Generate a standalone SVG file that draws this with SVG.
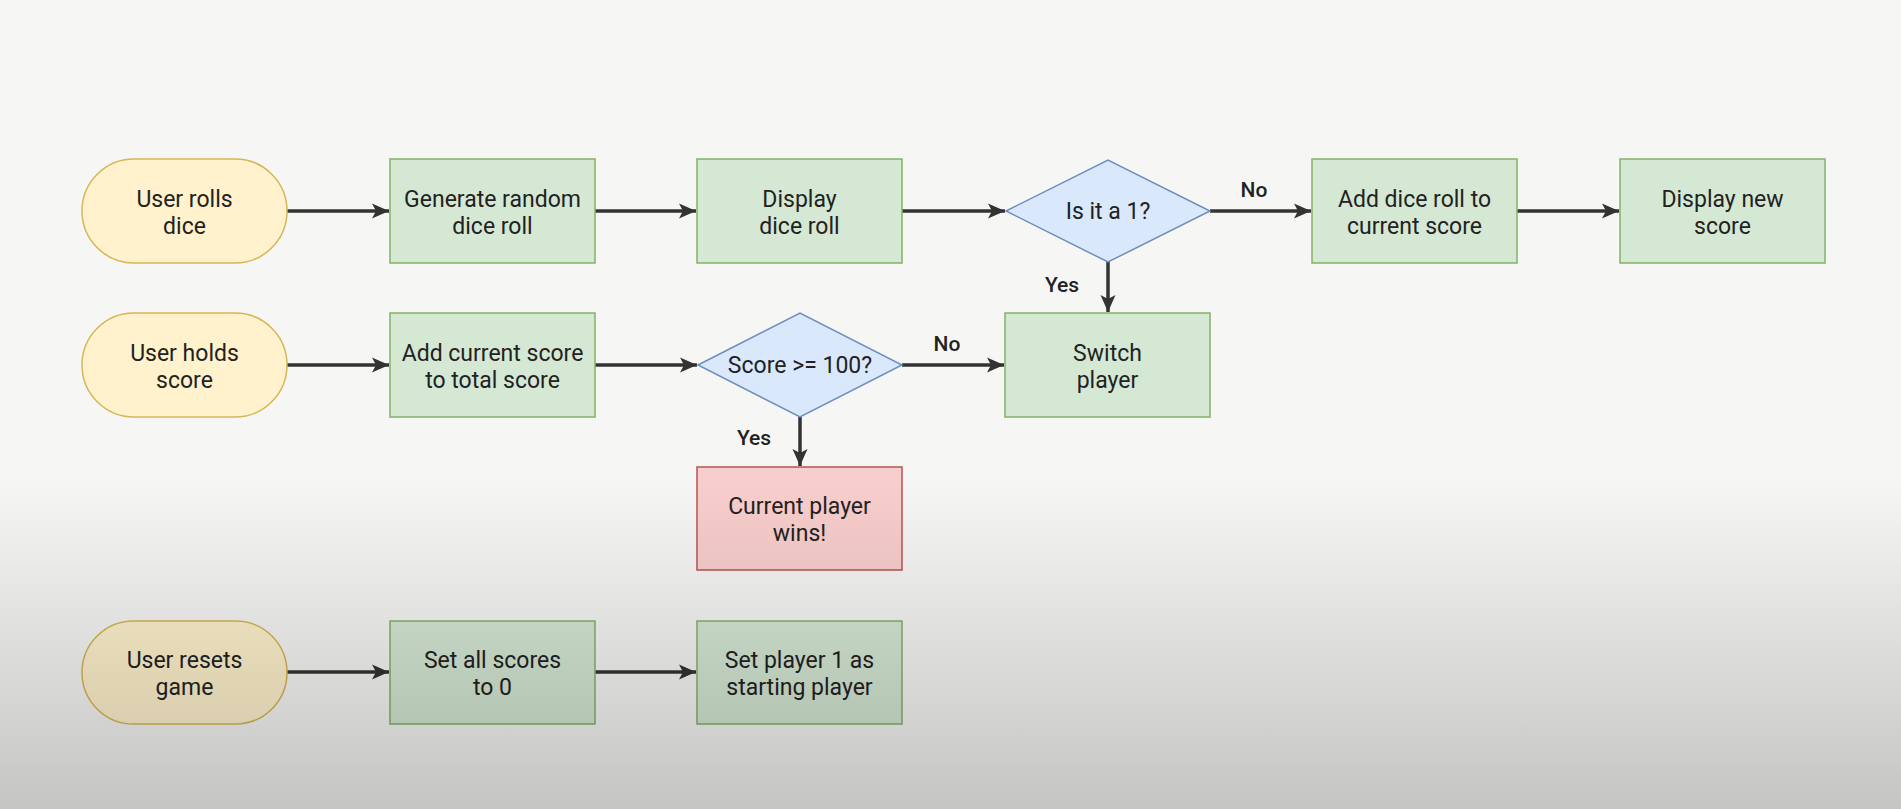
<svg xmlns="http://www.w3.org/2000/svg" width="1901" height="809" viewBox="0 0 1901 809">
  <defs>
    <style>
      .term { fill: #fff2cc; stroke: #d6b656; stroke-width: 1.5; }
      .proc { fill: #d5e8d4; stroke: #82b366; stroke-width: 1.5; }
      .dec  { fill: #dae8fc; stroke: #6c8ebf; stroke-width: 1.5; }
      .end  { fill: #f8cecc; stroke: #b85450; stroke-width: 1.5; }
      .lbl  { font-family: Roboto, "Liberation Sans", sans-serif; font-size: 23px; fill: #222222; text-anchor: middle; }
      .elbl { font-family: Roboto, "Liberation Sans", sans-serif; font-size: 21px; font-weight: 500; fill: #222222; text-anchor: middle; }
      .edge { stroke: #333333; stroke-width: 3.5; fill: none; marker-end: url(#arrow); }
    </style>
    <marker id="arrow" markerUnits="userSpaceOnUse" viewBox="0 0 17 17" refX="17" refY="8.5" markerWidth="17" markerHeight="17" orient="auto">
      <path d="M0,1 L17,8.5 L0,16 L4,8.5 z" fill="#333333"/>
    </marker>
    <linearGradient id="shade" x1="0" y1="0" x2="0" y2="1">
      <stop offset="0" stop-color="#000" stop-opacity="0"/>
      <stop offset="1" stop-color="#000" stop-opacity="0.2"/>
    </linearGradient>
  </defs>

  <rect x="0" y="0" width="1901" height="809" fill="#f6f6f4"/>

  <!-- connectors -->
  <g id="connectors">
    <line class="edge" x1="287" y1="211" x2="389" y2="211"/>
    <line class="edge" x1="595" y1="211" x2="696" y2="211"/>
    <line class="edge" x1="902" y1="211" x2="1005" y2="211"/>
    <line class="edge" x1="1210" y1="211" x2="1311" y2="211"/>
    <line class="edge" x1="1517" y1="211" x2="1619" y2="211"/>
    <line class="edge" x1="1108" y1="262" x2="1108" y2="312"/>
    <line class="edge" x1="287" y1="365" x2="389" y2="365"/>
    <line class="edge" x1="595" y1="365" x2="697" y2="365"/>
    <line class="edge" x1="902" y1="365" x2="1004" y2="365"/>
    <line class="edge" x1="800" y1="417" x2="800" y2="466"/>
    <line class="edge" x1="287" y1="672" x2="389" y2="672"/>
    <line class="edge" x1="595" y1="672" x2="696" y2="672"/>
    <text class="elbl" x="1254" y="197">No</text>
    <text class="elbl" x="1062" y="292">Yes</text>
    <text class="elbl" x="947" y="351">No</text>
    <text class="elbl" x="754" y="445">Yes</text>
  </g>

  <!-- row 1: rolling -->
  <g id="user-rolls">
    <rect class="term" x="82" y="159" width="205" height="104" rx="52" ry="52"/>
    <text class="lbl" x="184.5" y="207">User rolls</text>
    <text class="lbl" x="184.5" y="234">dice</text>
  </g>
  <g id="generate-roll">
    <rect class="proc" x="390" y="159" width="205" height="104"/>
    <text class="lbl" x="492.5" y="207">Generate random</text>
    <text class="lbl" x="492.5" y="234">dice roll</text>
  </g>
  <g id="display-roll">
    <rect class="proc" x="697" y="159" width="205" height="104"/>
    <text class="lbl" x="799.5" y="207">Display</text>
    <text class="lbl" x="799.5" y="234">dice roll</text>
  </g>
  <g id="is-one">
    <polygon class="dec" points="1006,211 1108,160 1210,211 1108,262"/>
    <text class="lbl" x="1108" y="219">Is it a 1?</text>
  </g>
  <g id="add-roll">
    <rect class="proc" x="1312" y="159" width="205" height="104"/>
    <text class="lbl" x="1414.5" y="207">Add dice roll to</text>
    <text class="lbl" x="1414.5" y="234">current score</text>
  </g>
  <g id="display-score">
    <rect class="proc" x="1620" y="159" width="205" height="104"/>
    <text class="lbl" x="1722.5" y="207">Display new</text>
    <text class="lbl" x="1722.5" y="234">score</text>
  </g>

  <!-- row 2: holding -->
  <g id="user-holds">
    <rect class="term" x="82" y="313" width="205" height="104" rx="52" ry="52"/>
    <text class="lbl" x="184.5" y="361">User holds</text>
    <text class="lbl" x="184.5" y="388">score</text>
  </g>
  <g id="add-total">
    <rect class="proc" x="390" y="313" width="205" height="104"/>
    <text class="lbl" x="492.5" y="361">Add current score</text>
    <text class="lbl" x="492.5" y="388">to total score</text>
  </g>
  <g id="score-check">
    <polygon class="dec" points="698,365 800,313 902,365 800,417"/>
    <text class="lbl" x="800" y="373">Score &gt;= 100?</text>
  </g>
  <g id="switch-player">
    <rect class="proc" x="1005" y="313" width="205" height="104"/>
    <text class="lbl" x="1107.5" y="361">Switch</text>
    <text class="lbl" x="1107.5" y="388">player</text>
  </g>
  <g id="player-wins">
    <rect class="end" x="697" y="467" width="205" height="103"/>
    <text class="lbl" x="799.5" y="514">Current player</text>
    <text class="lbl" x="799.5" y="541">wins!</text>
  </g>

  <!-- row 3: reset -->
  <g id="user-resets">
    <rect class="term" x="82" y="621" width="205" height="103" rx="51.5" ry="51.5"/>
    <text class="lbl" x="184.5" y="668">User resets</text>
    <text class="lbl" x="184.5" y="695">game</text>
  </g>
  <g id="reset-scores">
    <rect class="proc" x="390" y="621" width="205" height="103"/>
    <text class="lbl" x="492.5" y="668">Set all scores</text>
    <text class="lbl" x="492.5" y="695">to 0</text>
  </g>
  <g id="set-starter">
    <rect class="proc" x="697" y="621" width="205" height="103"/>
    <text class="lbl" x="799.5" y="668">Set player 1 as</text>
    <text class="lbl" x="799.5" y="695">starting player</text>
  </g>

  <!-- darkening toward the bottom edge -->
  <rect x="0" y="480" width="1901" height="329" fill="url(#shade)"/>
</svg>
